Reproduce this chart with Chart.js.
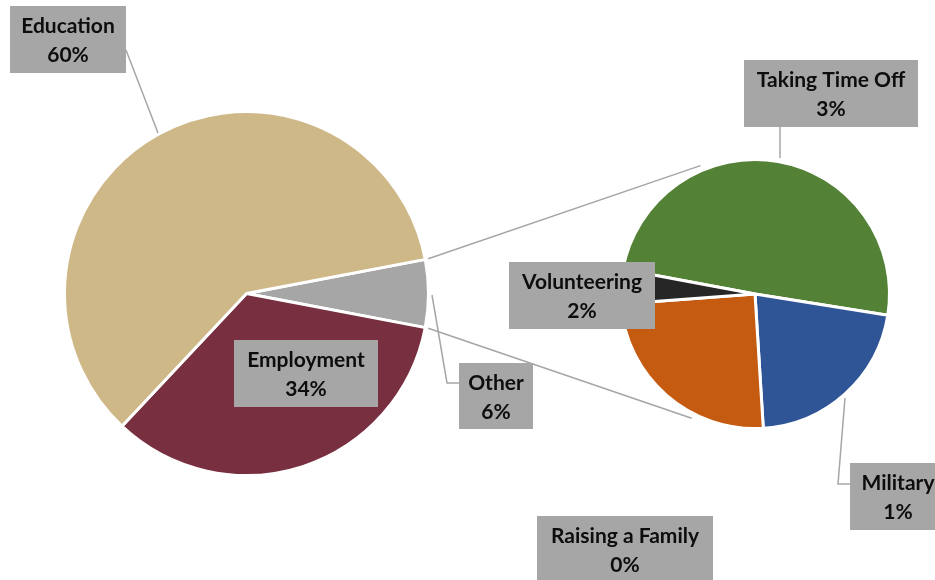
<!DOCTYPE html>
<html>
<head>
<meta charset="utf-8">
<script src="https://cdn.jsdelivr.net/npm/chart.js@4.4.1/dist/chart.umd.min.js"></script>
<style>
	html, body { margin: 0; padding: 0; background: #fff; }
	#wrap { position: relative; width: 935px; height: 580px; overflow: hidden; }
	#wrap canvas { position: absolute; left: 0; top: 0; }
</style>
</head>
<body>
<div id="wrap">
	<canvas id="pie-main" width="935" height="580"></canvas>
	<canvas id="pie-other" width="935" height="580"></canvas>
</div>
<script>
// main pie: "Other" first so it sits on the right, facing the second pie
const mainLabels = ['Other', 'Employment', 'Education'];
const mainValues = [6, 34, 60];
const mainColors = ['#a6a6a6', '#782f40', '#cfb887'];

// breakdown of "Other"
const otherLabels = ['Taking Time Off', 'Military', 'Volunteering', 'Raising a Family'];
const otherValues = [3.0, 1.3, 1.5, 0.25];
const otherColors = ['#538135', '#2f5597', '#c55a11', '#262626'];

(function() {
	'use strict';

	const FONT = 'bold 21px Lato, "Open Sans", sans-serif';
	const GREY = '#a6a6a6';

	// label boxes: x, y, w, h
	const boxes = {
		'Education': [10, 6, 116, 67],
		'Employment': [234, 340, 144, 67],
		'Other': [459, 363, 74, 66],
		'Taking Time Off': [744, 60, 174, 67],
		'Volunteering': [509, 262, 146, 67],
		'Military': [850, 463, 96, 67],
		'Raising a Family': [537, 516, 176, 67]
	};

	// leader lines from box to slice
	const leaders = [
		[[126, 50], [158, 133]],
		[[432, 295], [447, 383], [459, 383]],
		[[780, 127], [780, 158]],
		[[845, 398], [838, 484], [850, 484]]
	];

	let mainChart = null;

	/**
	 * Percent text of a value within the whole
	 */
	function pct(v, total) {
		return Math.round(v / total * 100) + '%';
	}

	/**
	 * Draw one grey label box with two centred lines
	 */
	function drawBox(ctx, name, valueText) {
		const b = boxes[name];
		if (!b) return;
		ctx.fillStyle = GREY;
		ctx.fillRect(b[0], b[1], b[2], b[3]);
		ctx.fillStyle = '#0d0d0d';
		ctx.font = FONT;
		ctx.textAlign = 'center';
		ctx.textBaseline = 'middle';
		const cx = b[0] + b[2] / 2;
		ctx.fillText(name, cx, b[1] + 20);
		ctx.fillText(valueText, cx, b[1] + 49);
	}

	const overlayPlugin = {
		id: 'overlay',
		afterDraw(chart) {
			const ctx = chart.ctx;
			ctx.save();

			// connectors between "Other" and the second pie
			const otherArc = mainChart.getDatasetMeta(0).data[0];
			const sub = chart.getDatasetMeta(0).data[0];
			const r1 = otherArc.outerRadius + 3;
			const r2 = sub.outerRadius + 5;
			const topA = -113 * Math.PI / 180;
			const botA = 117 * Math.PI / 180;

			ctx.strokeStyle = GREY;
			ctx.lineWidth = 1.5;
			ctx.beginPath();
			ctx.moveTo(otherArc.x + r1 * Math.cos(otherArc.startAngle), otherArc.y + r1 * Math.sin(otherArc.startAngle));
			ctx.lineTo(sub.x + r2 * Math.cos(topA), sub.y + r2 * Math.sin(topA));
			ctx.moveTo(otherArc.x + r1 * Math.cos(otherArc.endAngle), otherArc.y + r1 * Math.sin(otherArc.endAngle));
			ctx.lineTo(sub.x + r2 * Math.cos(botA), sub.y + r2 * Math.sin(botA));
			ctx.stroke();

			leaders.forEach(pts => {
				ctx.beginPath();
				ctx.moveTo(pts[0][0], pts[0][1]);
				pts.slice(1).forEach(p => ctx.lineTo(p[0], p[1]));
				ctx.stroke();
			});

			// labels
			const total = mainValues.reduce((a, b) => a + b, 0);
			mainLabels.forEach((l, i) => drawBox(ctx, l, pct(mainValues[i], total)));
			otherLabels.forEach((l, i) => drawBox(ctx, l, pct(otherValues[i], total)));

			ctx.restore();
		}
	};

	/**
	 * Build a pie config placed inside the page by padding
	 */
	function pieConfig(labels, values, colors, rotation, padding, plugins) {
		return {
			type: 'pie',
			data: {
				labels: labels,
				datasets: [{
					data: values,
					backgroundColor: colors,
					borderColor: '#ffffff',
					borderWidth: 3
				}]
			},
			options: {
				responsive: false,
				animation: false,
				rotation: rotation,
				layout: { padding: padding },
				plugins: {
					legend: { display: false },
					tooltip: { enabled: false }
				}
			},
			plugins: plugins || []
		};
	}

	// centre "Other" on the right-hand side of the main pie
	const mainTotal = mainValues.reduce((a, b) => a + b, 0);
	const mainRotation = 90 - (mainValues[0] / mainTotal * 360) / 2;

	mainChart = new Chart(document.getElementById('pie-main'), pieConfig(
		mainLabels, mainValues, mainColors, mainRotation,
		{ left: 63, top: 110, right: 505, bottom: 103 }
	));

	new Chart(document.getElementById('pie-other'), pieConfig(
		otherLabels, otherValues, otherColors, 280.6,
		{ left: 619, top: 158, right: 44, bottom: 150 },
		[overlayPlugin]
	));
})();
</script>
</body>
</html>
